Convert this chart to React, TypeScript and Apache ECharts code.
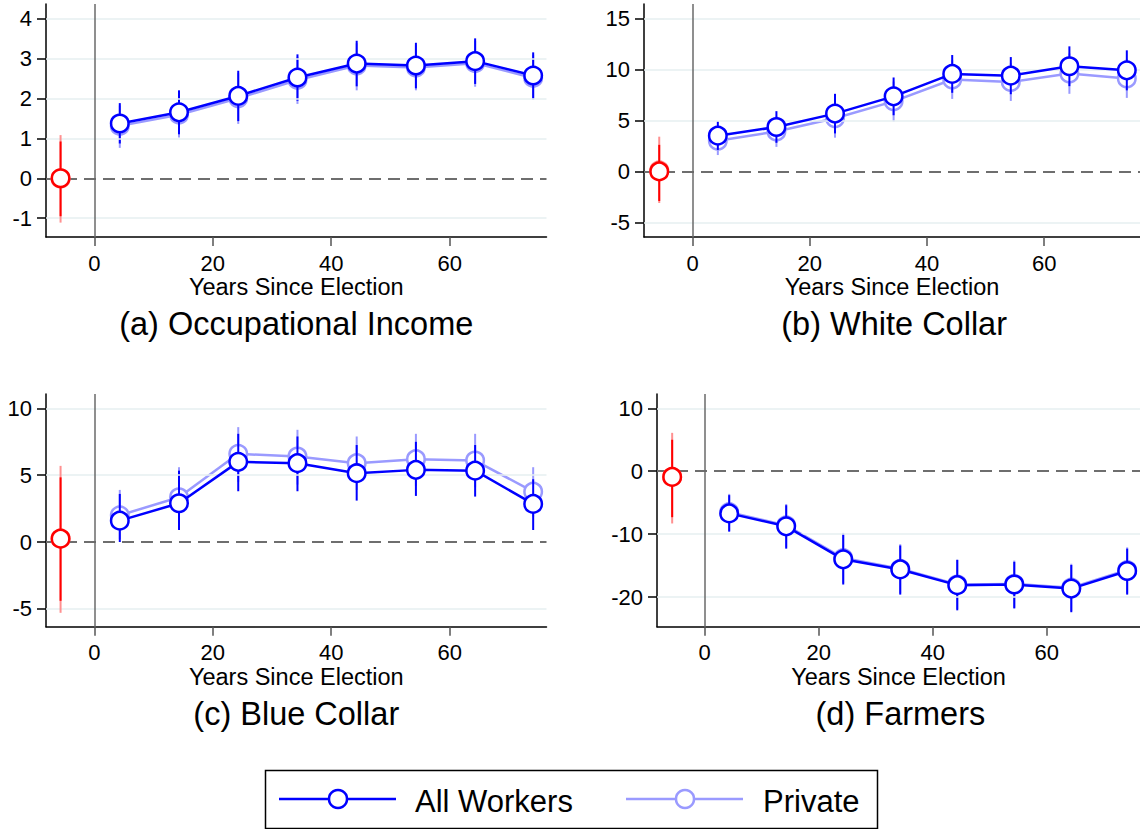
import React, { useEffect, useRef } from 'react';
import * as echarts from 'echarts';

const FONT = '"Liberation Sans", Arial, Helvetica, sans-serif';
const BLUE = '#0000ff';
const LIGHT = '#9a9aff';
const RED = '#ff0000';
const PINK = '#ff9090';

// x positions (years since election)
const X = [4.3, 14.3, 24.3, 34.3, 44.3, 54.3, 64.3, 74.1];
const PRE_X = -5.7;
const X_TICKS = [0, 20, 40, 60];

// (a) Occupational Income
const allA = [1.37, 1.65, 2.06, 2.52, 2.87, 2.82, 2.93, 2.57];
const allALo = [0.87, 1.1, 1.43, 1.94, 2.3, 2.25, 2.36, 1.99];
const allAHi = [1.88, 2.2, 2.69, 3.1, 3.44, 3.39, 3.5, 3.15];
const privA = [1.31, 1.59, 2.0, 2.46, 2.82, 2.77, 2.88, 2.51];
const privALo = [0.76, 1.02, 1.36, 1.86, 2.2, 2.2, 2.29, 1.96];
const privAHi = [1.82, 2.14, 2.63, 3.04, 3.38, 3.33, 3.44, 3.09];
const preA = { all: 0.0, allLo: -0.95, allHi: 0.92, priv: -0.01, privLo: -1.11, privHi: 1.08 };
const yTicksA = [-1, 0, 1, 2, 3, 4];

// (b) White Collar
const allB = [3.5, 4.35, 5.66, 7.35, 9.55, 9.38, 10.3, 9.9];
const allBLo = [2.1, 2.8, 3.72, 5.5, 7.7, 7.56, 8.35, 7.94];
const allBHi = [4.9, 5.9, 7.6, 9.2, 11.4, 11.2, 12.25, 11.86];
const privB = [3.0, 3.9, 5.2, 6.86, 9.0, 8.76, 9.58, 9.1];
const privBLo = [1.6, 2.4, 3.3, 4.9, 7.1, 6.9, 7.6, 7.2];
const privBHi = [4.4, 5.4, 7.1, 8.8, 10.9, 10.6, 11.55, 11.0];
const preB = { all: 0.0, allLo: -2.9, allHi: 2.6, priv: 0.1, privLo: -3.1, privHi: 3.4 };
const yTicksB = [-5, 0, 5, 10, 15];

// (c) Blue Collar
const allC = [1.6, 2.9, 6.0, 5.9, 5.15, 5.4, 5.34, 2.85];
const allCLo = [0.0, 0.9, 3.8, 3.8, 3.1, 3.45, 3.4, 0.9];
const allCHi = [3.6, 5.34, 8.1, 7.9, 7.26, 7.5, 7.26, 4.7];
const privC = [2.0, 3.35, 6.6, 6.4, 5.9, 6.2, 6.1, 3.77];
const privCLo = [0.2, 1.3, 4.5, 4.3, 3.9, 4.2, 4.1, 1.9];
const privCHi = [3.9, 5.6, 8.6, 8.4, 7.9, 8.1, 8.1, 5.6];
const preC = { all: 0.25, allLo: -4.4, allHi: 4.84, priv: 0.25, privLo: -5.3, privHi: 5.7 };
const yTicksC = [-5, 0, 5, 10];

// (d) Farmers
const allD = [-6.7, -8.75, -14.0, -15.6, -18.1, -18.0, -18.65, -15.85];
const allDLo = [-9.6, -12.3, -18.0, -19.6, -22.1, -21.8, -22.4, -19.6];
const allDHi = [-3.8, -5.4, -10.0, -11.8, -14.1, -14.4, -14.9, -12.3];
const privD = [-6.5, -8.6, -13.8, -15.5, -18.0, -17.9, -18.5, -15.7];
const privDLo = [-9.5, -12.1, -17.8, -19.4, -21.9, -21.7, -22.2, -19.4];
const privDHi = [-3.6, -5.2, -9.8, -11.6, -14.0, -14.2, -14.7, -12.1];
const preD = { all: -0.9, allLo: -7.3, allHi: 5.0, priv: -0.9, privLo: -8.3, privHi: 6.1 };
const yTicksD = [-20, -10, 0, 10];

const TITLES = ['(a) Occupational Income', '(b) White Collar', '(c) Blue Collar', '(d) Farmers'];

const panels = [
  { all: allA, allLo: allALo, allHi: allAHi, priv: privA, privLo: privALo, privHi: privAHi, pre: preA, yTicks: yTicksA,
    grid: { left: 46, top: 4, width: 500.5, height: 233 }, xMin: -8.16, xMax: 76.35, yMin: -1.47, yMax: 4.36 },
  { all: allB, allLo: allBLo, allHi: allBHi, priv: privB, privLo: privBLo, privHi: privBHi, pre: preB, yTicks: yTicksB,
    grid: { left: 644, top: 4, width: 500.3, height: 233 }, xMin: -8.3, xMax: 76.35, yMin: -6.43, yMax: 16.4 },
  { all: allC, allLo: allCLo, allHi: allCHi, priv: privC, privLo: privCLo, privHi: privCHi, pre: preC, yTicks: yTicksC,
    grid: { left: 46, top: 394, width: 500.5, height: 232.7 }, xMin: -8.16, xMax: 76.35, yMin: -6.34, yMax: 11.08 },
  { all: allD, allLo: allDLo, allHi: allDHi, priv: privD, privLo: privDLo, privHi: privDHi, pre: preD, yTicks: yTicksD,
    grid: { left: 657, top: 394, width: 486.8, height: 232.7 }, xMin: -8.36, xMax: 76.35, yMin: -24.7, yMax: 12.27 },
];

function errSeries(i: number, data: number[][], color: string, z: number) {
  return {
    type: 'custom',
    xAxisIndex: i,
    yAxisIndex: i,
    z,
    silent: true,
    encode: { x: 0, y: [1, 2] },
    data,
    renderItem: (params: any, api: any) => {
      const x = api.value(0);
      const p1 = api.coord([x, api.value(1)]);
      const p2 = api.coord([x, api.value(2)]);
      return {
        type: 'line',
        shape: { x1: p1[0], y1: p1[1], x2: p2[0], y2: p2[1] },
        style: { stroke: color, lineWidth: 2 },
      };
    },
  };
}

function lineSeries(i: number, data: number[][], color: string, z: number, withLine: boolean) {
  return {
    type: 'line',
    xAxisIndex: i,
    yAxisIndex: i,
    z,
    silent: true,
    data,
    symbol: 'circle',
    symbolSize: 17.5,
    showAllSymbol: true,
    itemStyle: { color: '#ffffff', borderColor: color, borderWidth: 2.5 },
    lineStyle: { color, width: withLine ? 2.5 : 0 },
  };
}

export default function App() {
  const ref = useRef<HTMLDivElement>(null);
  useEffect(() => {
    if (!ref.current) return;
    const chart = echarts.init(ref.current, undefined, { renderer: 'svg' });
    const grids: any[] = [];
    const xAxes: any[] = [];
    const yAxes: any[] = [];
    const series: any[] = [];
    const graphics: any[] = [];

    panels.forEach((p, i) => {
      grids.push({ ...p.grid, containLabel: false });
      xAxes.push({
        type: 'value',
        gridIndex: i,
        min: p.xMin,
        max: p.xMax,
        name: 'Years Since Election',
        nameLocation: 'middle',
        nameGap: 38,
        nameTextStyle: { fontSize: 23.5, color: '#000', fontFamily: FONT },
        axisLine: { show: true, onZero: false, lineStyle: { color: '#000', width: 1.5 } },
        axisTick: { show: true, length: 9, customValues: X_TICKS, lineStyle: { color: '#555', width: 1.5 } },
        axisLabel: { customValues: X_TICKS, margin: 15, fontSize: 22, color: '#000', fontFamily: FONT },
        splitLine: { show: false },
      });
      yAxes.push({
        type: 'value',
        gridIndex: i,
        min: p.yMin,
        max: p.yMax,
        axisLine: { show: true, onZero: false, lineStyle: { color: '#000', width: 1.5 } },
        axisTick: { show: true, length: 9, customValues: p.yTicks, lineStyle: { color: '#000', width: 1.5 } },
        axisLabel: { customValues: p.yTicks, margin: 14, fontSize: 22, color: '#000', fontFamily: FONT },
        splitLine: { show: false },
      });

      const gridLines = p.yTicks.filter((v) => v !== 0).map((v) => ({
        yAxis: v,
        lineStyle: { color: '#e6eff1', width: 1.5, type: 'solid' },
      }));
      series.push({
        type: 'line',
        xAxisIndex: i,
        yAxisIndex: i,
        z: 1,
        silent: true,
        symbol: 'none',
        data: [[PRE_X, p.pre.all]],
        lineStyle: { width: 0 },
        markLine: {
          silent: true,
          symbol: ['none', 'none'],
          label: { show: false },
          animation: false,
          data: [
            ...gridLines,
            { yAxis: 0, lineStyle: { color: '#6e6e6e', width: 2, type: [12, 7] } },
            { xAxis: 0, lineStyle: { color: '#6a6a6a', width: 1.5, type: 'solid' } },
          ],
        },
      });

      series.push(errSeries(i, X.map((x, k) => [x, p.privLo[k], p.privHi[k]]), LIGHT, 2));
      series.push(lineSeries(i, X.map((x, k) => [x, p.priv[k]]), LIGHT, 3, true));
      series.push(errSeries(i, X.map((x, k) => [x, p.allLo[k], p.allHi[k]]), BLUE, 4));
      series.push(lineSeries(i, X.map((x, k) => [x, p.all[k]]), BLUE, 5, true));

      series.push(errSeries(i, [[PRE_X, p.pre.privLo, p.pre.privHi]], PINK, 6));
      series.push(lineSeries(i, [[PRE_X, p.pre.priv]], PINK, 7, false));
      series.push(errSeries(i, [[PRE_X, p.pre.allLo, p.pre.allHi]], RED, 8));
      series.push(lineSeries(i, [[PRE_X, p.pre.all]], RED, 9, false));

      const g = p.grid;
      graphics.push({
        type: 'text',
        x: g.left + g.width / 2,
        y: g.top + g.height + 87,
        style: {
          text: TITLES[i],
          fontSize: 32.5,
          fontFamily: FONT,
          fill: '#000',
          align: 'center',
          verticalAlign: 'middle',
        },
      });
    });

    // legend
    const legY = 799;
    graphics.push(
      { type: 'rect', shape: { x: 265.5, y: 770.5, width: 612, height: 58 }, style: { fill: '#fff', stroke: '#000', lineWidth: 1.5 } },
      { type: 'line', shape: { x1: 279, y1: legY, x2: 396, y2: legY }, style: { stroke: BLUE, lineWidth: 2.5 } },
      { type: 'circle', shape: { cx: 338, cy: legY, r: 9 }, style: { fill: '#fff', stroke: BLUE, lineWidth: 2.5 } },
      { type: 'text', x: 415, y: legY + 2, style: { text: 'All Workers', fontSize: 31, fontFamily: FONT, fill: '#000', align: 'left', verticalAlign: 'middle' } },
      { type: 'line', shape: { x1: 626, y1: legY, x2: 743, y2: legY }, style: { stroke: LIGHT, lineWidth: 2.5 } },
      { type: 'circle', shape: { cx: 685, cy: legY, r: 9 }, style: { fill: '#fff', stroke: LIGHT, lineWidth: 2.5 } },
      { type: 'text', x: 763, y: legY + 2, style: { text: 'Private', fontSize: 31, fontFamily: FONT, fill: '#000', align: 'left', verticalAlign: 'middle' } },
    );

    chart.setOption({
      animation: false,
      backgroundColor: '#ffffff',
      textStyle: { fontFamily: FONT },
      grid: grids,
      xAxis: xAxes,
      yAxis: yAxes,
      series,
      graphic: graphics,
    });
    return () => chart.dispose();
  }, []);
  return (
    <div
      ref={ref}
      style={{ position: 'fixed', left: 0, top: 0, width: 1140, height: 829, background: '#fff' }}
    />
  );
}
